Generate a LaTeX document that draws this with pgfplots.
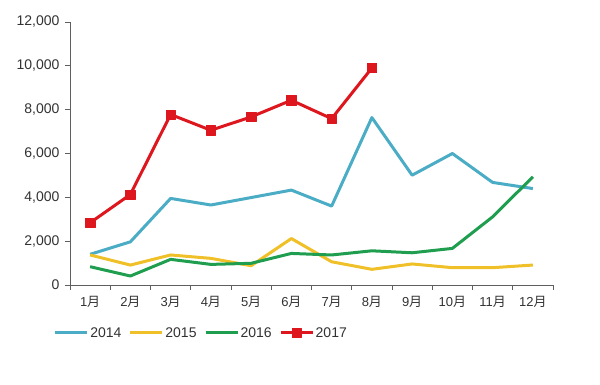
\documentclass[border=0pt]{standalone}
\usepackage{pgfplots}
\pgfplotsset{compat=1.18}
\usepackage{fontspec}
\setmainfont{Liberation Sans}
\newfontfamily\cjk{Noto Sans CJK SC}
\definecolor{c14}{RGB}{75,172,198}
\definecolor{c15}{RGB}{240,192,40}
\definecolor{c16}{RGB}{30,158,78}
\definecolor{c17}{RGB}{222,22,30}
\definecolor{axc}{RGB}{95,95,95}
\definecolor{txc}{RGB}{50,50,50}
\begin{document}
\begin{tikzpicture}
\path[use as bounding box] (0,0) rectangle (600bp,385bp);
\begin{axis}[
  at={(70bp,100bp)}, anchor=south west,
  scale only axis, width=483bp, height=263bp,
  xmin=0.5, xmax=12.5, ymin=0, ymax=12000,
  axis x line*=bottom, axis y line*=left,
  axis line style={axc, line width=0.9bp},
  xtick={1,...,12},
  xticklabels={1{\cjk 月},2{\cjk 月},3{\cjk 月},4{\cjk 月},5{\cjk 月},6{\cjk 月},7{\cjk 月},8{\cjk 月},9{\cjk 月},10{\cjk 月},11{\cjk 月},12{\cjk 月}},
  major x tick style={draw=none},
  minor xtick={0.5,1.5,...,12.5},
  minor tick length=5bp,
  minor tick style={axc, line width=0.9bp},
  ytick={0,2000,...,12000},
  major tick length=5bp,
  tick align=outside,
  major y tick style={axc, line width=0.9bp},
  /pgf/number format/assume math mode=true,
  /pgf/number format/1000 sep={,},
  scaled y ticks=false,
  ticklabel style={font=\fontsize{13bp}{15bp}\selectfont, text=txc},
  yticklabel style={font=\fontsize{14bp}{16bp}\selectfont, xshift=-2bp},
  xticklabel style={yshift=-3bp},
  legend columns=4,
  legend style={draw=none, fill=none, at={(axis description cs:-0.034,-0.1825)}, anchor=west,
    inner sep=0pt, font=\fontsize{14bp}{16bp}\selectfont, text=txc,
    /tikz/every even column/.append style={column sep=6bp},
    nodes={inner sep=1.5bp}},
  legend image code/.code={\draw[mark repeat=2,mark phase=2,#1] plot coordinates {(0bp,0bp) (16bp,0bp) (32bp,0bp)};},
  every axis plot/.append style={line width=3bp, line join=round},
]
\addplot[c14, mark=none] coordinates {(1,1400) (2,1970) (3,3950) (4,3650) (5,3990) (6,4330) (7,3600) (8,7640) (9,5010) (10,6000) (11,4680) (12,4400)};
\addlegendentry{2014}
\addplot[c15, mark=none] coordinates {(1,1370) (2,910) (3,1370) (4,1215) (5,880) (6,2120) (7,1060) (8,715) (9,960) (10,790) (11,790) (12,910)};
\addlegendentry{2015}
\addplot[c16, mark=none] coordinates {(1,835) (2,410) (3,1170) (4,940) (5,990) (6,1440) (7,1370) (8,1560) (9,1470) (10,1670) (11,3110) (12,4935)};
\addlegendentry{2016}
\addplot[c17, mark=square*, mark size=4.7bp, mark options={solid, line width=0.5bp}] coordinates {(1,2840) (2,4130) (3,7780) (4,7060) (5,7670) (6,8430) (7,7590) (8,9900)};
\addlegendentry{2017}
\end{axis}
\end{tikzpicture}
\end{document}
